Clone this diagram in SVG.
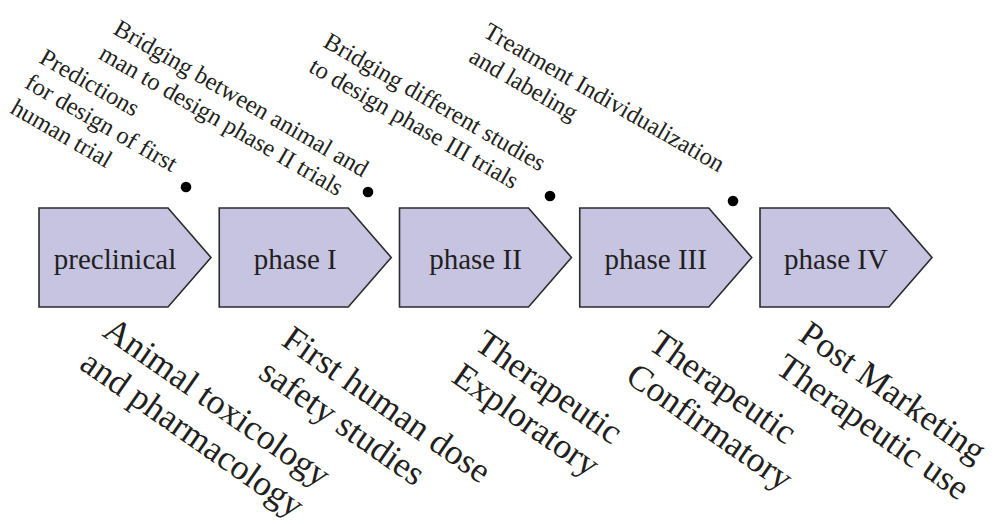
<svg xmlns="http://www.w3.org/2000/svg" width="995" height="524" viewBox="0 0 995 524">
<style>
.box{fill:#c7c4e2;stroke:#2b2b2b;stroke-width:1.6}
.lbl{font-family:"Liberation Serif","Times New Roman",serif;font-size:29px;fill:#231f20;text-anchor:middle}
.up{font-family:"Liberation Serif","Times New Roman",serif;font-size:24.5px;fill:#231f20}
.lo{font-family:"Liberation Serif","Times New Roman",serif;font-size:35.5px;fill:#231f20}
.dot{fill:#000}
</style>
<defs>
<polygon id="chev" points="0,0 129,0 172,49.5 129,99 0,99"/>
</defs>
<g id="connectors"></g>
<g id="preclinical"><use href="#chev" class="box" transform="translate(39,208)"/><text class="lbl" x="115" y="269">preclinical</text></g>
<g id="phase1"><use href="#chev" class="box" transform="translate(219.25,208)"/><text class="lbl" x="295.25" y="269">phase I</text></g>
<g id="phase2"><use href="#chev" class="box" transform="translate(399.5,208)"/><text class="lbl" x="475.5" y="269">phase II</text></g>
<g id="phase3"><use href="#chev" class="box" transform="translate(579.75,208)"/><text class="lbl" x="655.75" y="269">phase III</text></g>
<g id="phase4"><use href="#chev" class="box" transform="translate(760,208)"/><text class="lbl" x="836" y="269">phase IV</text></g>
<g id="dots">
<circle class="dot" cx="186" cy="187" r="5.3"/>
<circle class="dot" cx="368" cy="192" r="5.3"/>
<circle class="dot" cx="550" cy="196" r="5.3"/>
<circle class="dot" cx="733" cy="201" r="5.3"/>
</g>
<g id="upper-labels">
<g transform="translate(38,62) rotate(30)"><text class="up"><tspan x="0" y="0">Predictions</tspan><tspan x="0" y="29">for design of first</tspan><tspan x="0" y="58">human trial</tspan></text></g>
<g transform="translate(112,33) rotate(30)"><text class="up"><tspan x="0" y="0">Bridging between animal and</tspan><tspan x="0" y="29">man to design phase II trials</tspan></text></g>
<g transform="translate(322,46) rotate(30)"><text class="up"><tspan x="0" y="0">Bridging different studies</tspan><tspan x="0" y="29">to design phase III trials</tspan></text></g>
<g transform="translate(482,36) rotate(30)"><text class="up"><tspan x="0" y="0">Treatment Individualization</tspan><tspan x="0" y="29">and labeling</tspan></text></g>
</g>
<g id="lower-labels">
<g transform="translate(101,335) rotate(35)"><text class="lo"><tspan x="0" y="0">Animal toxicology</tspan><tspan x="0" y="40">and pharmacology</tspan></text></g>
<g transform="translate(280,344) rotate(35)"><text class="lo"><tspan x="0" y="0">First human dose</tspan><tspan x="0" y="40">safety studies</tspan></text></g>
<g transform="translate(473,348) rotate(35)"><text class="lo"><tspan x="0" y="0">Therapeutic</tspan><tspan x="0" y="40">Exploratory</tspan></text></g>
<g transform="translate(647,348) rotate(35)"><text class="lo"><tspan x="0" y="0">Therapeutic</tspan><tspan x="0" y="40">Confirmatory</tspan></text></g>
<g transform="translate(797,339) rotate(35)"><text class="lo"><tspan x="0" y="0">Post Marketing</tspan><tspan x="0" y="40">Therapeutic use</tspan></text></g>
</g>
</svg>
